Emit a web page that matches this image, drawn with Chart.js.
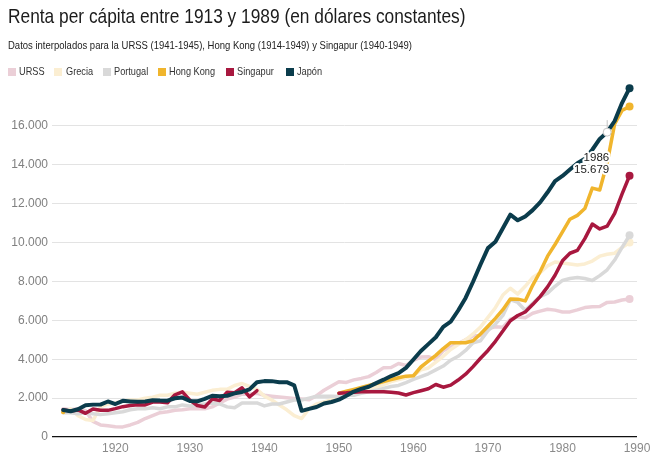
<!DOCTYPE html>
<html>
<head>
<meta charset="utf-8">
<title>Renta per cápita 1913-1989</title>
<script src="https://cdn.jsdelivr.net/npm/chart.js@4.4.1/dist/chart.umd.min.js"></script>
<style>
  body { margin: 0; background: #fff; }
  #wrap { position: relative; width: 661px; height: 462px; overflow: hidden; }
  #chart { position: absolute; left: 0; top: 0; }
  .title { position: absolute; left: 8px; top: 4px; font-size: 21px; color: #1b1b1b; white-space: nowrap;
           font-family: 'Liberation Sans', Arial, sans-serif; transform: scaleX(0.825); transform-origin: 0 0; }
  .subtitle { position: absolute; left: 8px; top: 39px; font-size: 11.5px; color: #222; white-space: nowrap;
              font-family: 'Liberation Sans', Arial, sans-serif; transform: scaleX(0.826); transform-origin: 0 0; }
  .item { position: absolute; top: 65px; height: 13px; white-space: nowrap;
          font-family: 'Liberation Sans', Arial, sans-serif; font-size: 11.5px; color: #333; line-height: 13px; }
  .swatch { position: absolute; left: 0; top: 3px; width: 8px; height: 8px; }
  .lab { position: absolute; left: 11.3px; top: 0; transform: scaleX(0.8); transform-origin: 0 0; }
</style>
</head>
<body>
<div id="wrap">
  <canvas id="chart" width="661" height="462"></canvas>
  <div class="title">Renta per cápita entre 1913 y 1989 (en dólares constantes)</div>
  <div class="subtitle">Datos interpolados para la URSS (1941-1945), Hong Kong (1914-1949) y Singapur (1940-1949)</div>
  <div id="legend"></div>
</div>
<script>
// Years 1913 .. 1989, one value per year (null = no data)
const firstYear = 1913;
const lastYear = 1989;
const years = [];
for (let y = firstYear; y <= lastYear; y++) years.push(y);

const xTicks = [1920, 1930, 1940, 1950, 1960, 1970, 1980, 1990];
const yTicks = [0, 2000, 4000, 6000, 8000, 10000, 12000, 14000, 16000];

const noteYear = 1986;

const urss = [
  1450, 1400, 1450, 1350, 800, 620, 580,
  530, 520, 620, 750, 950, 1100, 1250, 1300, 1380, 1400,
  1450, 1450, 1450, 1550, 1750, 1950, 2050, 2200, 2200, 2250,
  2144, 2100, 2060, 2020, 1980, 1950, 1913, 2126, 2402, 2623,
  2841, 2806, 2937, 3013, 3106, 3313, 3566, 3576, 3777, 3680,
  3945, 4109, 4130, 3974, 4439, 4626, 4806, 5005, 5202, 5220,
  5575, 5667, 5643, 6059, 6176, 6136, 6363, 6473, 6568, 6525,
  6427, 6432, 6535, 6656, 6693, 6711, 6923, 6941, 7043, 7098
];

const grecia = [
  1250, 1450, 1100, 900, 850, 1550, 1700,
  1750, 1850, 1900, 1900, 2000, 2050, 2150, 2150, 2250, 2300,
  2250, 2200, 2300, 2400, 2450, 2450, 2650, 2750, 2600, 2450,
  2100, 1900, 1650, 1400, 1100, 950, 1450, 1700, 1800, 1900,
  2100, 2150, 2200, 2350, 2450, 2550, 2700, 2850, 2950, 3050,
  3150, 3450, 3550, 3850, 4150, 4500, 4750, 5000, 5300, 5650,
  6150, 6650, 7300, 7650, 7350, 7750, 8200, 8450, 8800, 9000,
  8950, 8900, 8850, 8900, 9050, 9300, 9400, 9450, 9750, 10000
];

const portugal = [
  1250, 1250, 1200, 1250, 1200, 1150, 1200,
  1250, 1300, 1400, 1450, 1450, 1500, 1450, 1550, 1550, 1650,
  1600, 1650, 1700, 1750, 1700, 1550, 1500, 1750, 1750, 1750,
  1600, 1700, 1700, 1800, 1900, 1900, 2000, 2100, 2100, 2100,
  2086, 2150, 2150, 2250, 2330, 2400, 2500, 2600, 2650, 2800,
  2960, 3100, 3250, 3450, 3650, 3950, 4150, 4450, 4850, 4950,
  5470, 5800, 6250, 7060, 6920, 6520, 6870, 7220, 7400, 7750,
  8050, 8150, 8200, 8150, 8050, 8300, 8600, 9100, 9750, 10372
];

const hongKong = [
  1279, null, null, null, null, null, null,
  null, null, null, null, null, null, null, null, null, null,
  null, null, null, null, null, null, null, null, null, null,
  null, null, null, null, null, null, null, null, null, null,
  2250, 2350, 2450, 2550, 2650, 2750, 2850, 2950, 3050, 3130,
  3150, 3600, 3900, 4200, 4550, 4850, 4850, 4850, 4950, 5300,
  5700, 6100, 6550, 7100, 7090, 7000, 7800, 8500, 9300, 9900,
  10550, 11200, 11400, 11750, 12800, 12700, 14100, 16100, 16800, 17000
];

const singapur = [
  1400, 1330, 1390, 1220, 1440, 1380, 1370,
  1460, 1560, 1620, 1660, 1650, 1800, 1800, 1760, 2170, 2320,
  1900, 1620, 1540, 1950, 1880, 2300, 2280, 2530, 2060, 2380,
  null, null, null, null, null, null, null, null, null, null,
  2250, 2270, 2300, 2330, 2330, 2330, 2330, 2300, 2260, 2160,
  2280, 2380, 2480, 2700, 2560, 2670, 2930, 3230, 3620, 4050,
  4450, 4920, 5450, 5980, 6250, 6430, 6810, 7220, 7720, 8320,
  9060, 9450, 9600, 10200, 10950, 10700, 10850, 11500, 12500, 13437
];

const japon = [
  1387, 1327, 1430, 1630, 1665, 1668, 1827,
  1696, 1860, 1831, 1809, 1831, 1885, 1872, 1870, 1992, 2026,
  1850, 1837, 1962, 2122, 2098, 2120, 2244, 2315, 2449, 2816,
  2874, 2873, 2818, 2822, 2659, 1346, 1444, 1541, 1725, 1800,
  1921, 2126, 2336, 2474, 2582, 2771, 2948, 3136, 3289, 3554,
  3986, 4426, 4777, 5129, 5668, 5934, 6506, 7152, 7983, 8874,
  9714, 10040, 10734, 11434, 11145, 11344, 11669, 12064, 12585, 13163,
  13428, 13754, 14078, 14307, 14773, 15331, 15679, 16251, 17185, 17942
];

const seriesNames = ['URSS', 'Grecia', 'Portugal', 'Hong Kong', 'Singapur', 'Japón'];
const seriesValues = [urss, grecia, portugal, hongKong, singapur, japon];
const seriesColors = ['#ebcfd7', '#fbeed2', '#d9d9d9', '#f0b52d', '#a8183f', '#0b3c4c'];
const seriesWidths = [3.5, 3.5, 3.5, 3.5, 3.5, 4];
const seriesOrder = [5, 4, 3, 2, 1, 0]; // lower = drawn on top
const legendLeft = [8, 54.3, 102.7, 157.7, 226, 286];

function fmt(v) {
  return String(v).replace(/\B(?=(\d{3})+(?!\d))/g, '.');
}

// Legend
const legend = document.getElementById('legend');
seriesNames.forEach((name, i) => {
  const item = document.createElement('div');
  item.className = 'item';
  item.style.left = legendLeft[i] + 'px';
  item.innerHTML = `<span class="swatch" style="background:${seriesColors[i]}"></span><span class="lab">${name}</span>`;
  legend.appendChild(item);
});

const datasets = seriesNames.map((name, i) => ({
  label: name,
  data: seriesValues[i].map((v, j) => ({ x: years[j], y: v })),
  borderColor: seriesColors[i],
  backgroundColor: seriesColors[i],
  borderWidth: seriesWidths[i],
  borderJoinStyle: 'round',
  borderCapStyle: 'round',
  pointRadius: ctx => {
    if (ctx.dataIndex === years.length - 1) return 4;
    // isolated first point (Hong Kong 1913)
    if (ctx.dataIndex === 0 && seriesValues[i][1] === null) return 2;
    return 0;
  },
  pointBorderWidth: 0,
  pointHoverRadius: 0,
  tension: 0,
  spanGaps: false,
  fill: false,
  clip: false,
  order: seriesOrder[i]
}));

// Marker and label for Japan 1986
const notePlugin = {
  id: 'japanNote',
  afterDatasetsDraw(chart) {
    const meta = chart.getDatasetMeta(seriesNames.indexOf('Japón'));
    const idx = noteYear - firstYear;
    const pt = meta.data[idx];
    const ctx = chart.ctx;
    ctx.save();
    ctx.strokeStyle = '#c4c4c4';
    ctx.lineWidth = 1;
    ctx.beginPath();
    ctx.moveTo(pt.x, pt.y - 12);
    ctx.lineTo(pt.x, pt.y - 4);
    ctx.stroke();
    ctx.beginPath();
    ctx.arc(pt.x, pt.y, 4, 0, Math.PI * 2);
    ctx.fillStyle = '#fff';
    ctx.fill();
    ctx.stroke();

    ctx.font = '11.5px "Liberation Sans", Arial, sans-serif';
    ctx.textAlign = 'right';
    ctx.textBaseline = 'middle';
    ctx.lineJoin = 'round';
    ctx.lineWidth = 4;
    ctx.strokeStyle = '#fff';
    ctx.fillStyle = '#222';
    const lines = [String(noteYear), fmt(japon[idx])];
    lines.forEach((t, k) => {
      const ty = pt.y + 25.5 + k * 12.5;
      ctx.strokeText(t, pt.x + 2, ty);
      ctx.fillText(t, pt.x + 2, ty);
    });
    ctx.restore();
  }
};

new Chart(document.getElementById('chart').getContext('2d'), {
  type: 'line',
  data: { datasets: datasets },
  options: {
    responsive: false,
    animation: false,
    layout: { padding: { top: 87, right: 24, bottom: 0, left: 0 } },
    plugins: {
      legend: { display: false },
      tooltip: { enabled: false }
    },
    events: [],
    scales: {
      x: {
        type: 'linear',
        min: 1911.5,
        max: 1990,
        afterBuildTicks: scale => { scale.ticks = xTicks.map(v => ({ value: v })); },
        afterFit: scale => { scale.height = 25; },
        grid: { display: false, drawTicks: false },
        border: { display: false },
        ticks: {
          padding: 4,
          color: '#8a8a8a',
          font: { family: '"Liberation Sans", Arial, sans-serif', size: 12 },
          callback: v => String(v),
          maxRotation: 0,
          autoSkip: false
        }
      },
      y: {
        min: 0,
        max: 18000,
        afterBuildTicks: scale => { scale.ticks = yTicks.map(v => ({ value: v })); },
        afterFit: scale => { scale.width = 52; },
        grid: {
          drawTicks: false,
          color: ctx => ctx.tick && ctx.tick.value === 0 ? '#111' : '#e3e3e3',
          lineWidth: ctx => ctx.tick && ctx.tick.value === 0 ? 1.3 : 1
        },
        border: { display: false },
        ticks: {
          padding: 4,
          color: '#808080',
          font: { family: '"Liberation Sans", Arial, sans-serif', size: 12 },
          callback: v => fmt(v)
        }
      }
    }
  },
  plugins: [notePlugin]
});
</script>
</body>
</html>
